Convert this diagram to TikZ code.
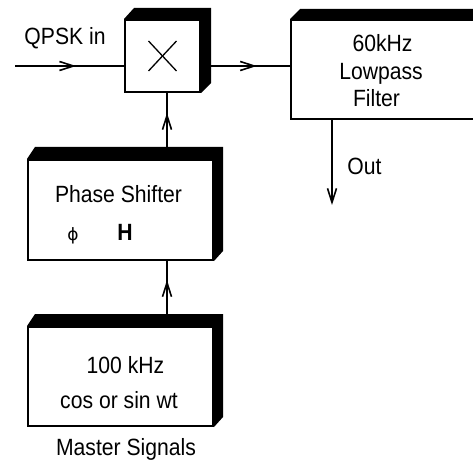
\documentclass[tikz,border=0pt]{standalone}
\usepackage{fontspec}
\setmainfont{Liberation Sans}[FakeStretch=0.9]
\newfontfamily\dejavu{DejaVu Sans}
\usetikzlibrary{arrows.meta,decorations.markings,calc,backgrounds}
\tikzset{
  box/.style={draw, line width=2pt, fill=white, inner sep=0pt},
  shadowfill/.style={fill=black},
  conn/.style={line width=2pt},
  barb/.style={-{Straight Barb[length=14pt,width=9pt,line width=1.6pt]}},
  midarrow/.style={postaction={decorate}, decoration={markings,
     mark=at position #1 with {\arrow{Straight Barb[length=14pt,width=9pt,line width=1.6pt]}}}},
  lbl/.style={inner sep=0pt, anchor=base, font=\fontsize{23.5}{28}\selectfont}
}
\begin{document}
\begin{tikzpicture}[x=1pt,y=-1pt]
\useasboundingbox (0,0) rectangle (473,462);
\clip (0,0) rectangle (473,462);
% boxes (front faces)
\node[box, minimum width=75pt, minimum height=72pt] (mult) at (162.5,56) {};
\node[box, minimum width=209pt, minimum height=99pt] (filt) at (395.5,69.5) {};
\node[box, minimum width=185pt, minimum height=100pt] (phase) at (120.5,210) {};
\node[box, minimum width=185pt, minimum height=99pt] (master) at (120.5,376.5) {};
% shadows
\begin{pgfonlayer}{background}
\fill[shadowfill] (mult.north west) -- ++(10,-11) -- ($(mult.north east)+(10,-11)$) -- ($(mult.south east)+(10,-10)$) -- (mult.south east) -- cycle;
\fill[shadowfill] (filt.north west) -- ++(10,-10) -- ($(filt.north east)+(10,-10)$) -- ($(filt.south east)+(10,-10)$) -- (filt.south east) -- cycle;
\fill[shadowfill] (phase.north west) -- ++(8,-12) -- ($(phase.north east)+(9,-12)$) -- ($(phase.south east)+(9,-10)$) -- (phase.south east) -- cycle;
\fill[shadowfill] (master.north west) -- ++(8,-12) -- ($(master.north east)+(9,-12)$) -- ($(master.south east)+(9,-10)$) -- (master.south east) -- cycle;
\end{pgfonlayer}
% multiplier cross
\draw[line width=1.3pt] ($(mult.center)+(-14,-15)$) -- ($(mult.center)+(14,15)$);
\draw[line width=1.3pt] ($(mult.center)+(-14,15)$) -- ($(mult.center)+(14,-15)$);
% coordinates
\coordinate (inL) at (15,66);
\coordinate (vx) at (167,0);
\coordinate (ox) at (332,0);
\coordinate (outE) at (332,205);
% connectors
\draw[conn, midarrow=0.56] (inL) -- (inL -| mult.west);
\draw[conn, midarrow=0.58] ($(inL -| mult.east)+(10,0)$) -- (inL -| filt.west);
\draw[conn, midarrow=0.63] ($(vx |- phase.north)+(0,-12)$) -- (vx |- mult.south);
\draw[conn, midarrow=0.64] ($(vx |- master.north)+(0,-12)$) -- (vx |- phase.south);
\draw[conn, barb] (ox |- filt.south) -- (outE);
% labels
\node[lbl] (qpsk) at (65,45) {QPSK in};
\node[lbl] (out) at (364.5,175) {Out};
\node[lbl] (t60) at (382.5,52) {60kHz};
\node[lbl] (tlow) at (381,80) {Lowpass};
\node[lbl] (tfil) at (376.5,107) {Filter};
\node[lbl] (tps) at (118.5,203) {Phase Shifter};
\node[inner sep=0pt, anchor=base, font=\fontsize{17}{20}\selectfont\dejavu] (tphi) at (73,240) {ϕ};
\node[lbl, font=\fontsize{23.5}{28}\selectfont\bfseries] (tH) at (125,240) {H};
\node[lbl] (t100) at (125.5,373) {100 kHz};
\node[lbl] (tcos) at (119,408) {cos or sin wt};
\node[lbl] (tms) at (126,455) {Master Signals};
\end{tikzpicture}
\end{document}
